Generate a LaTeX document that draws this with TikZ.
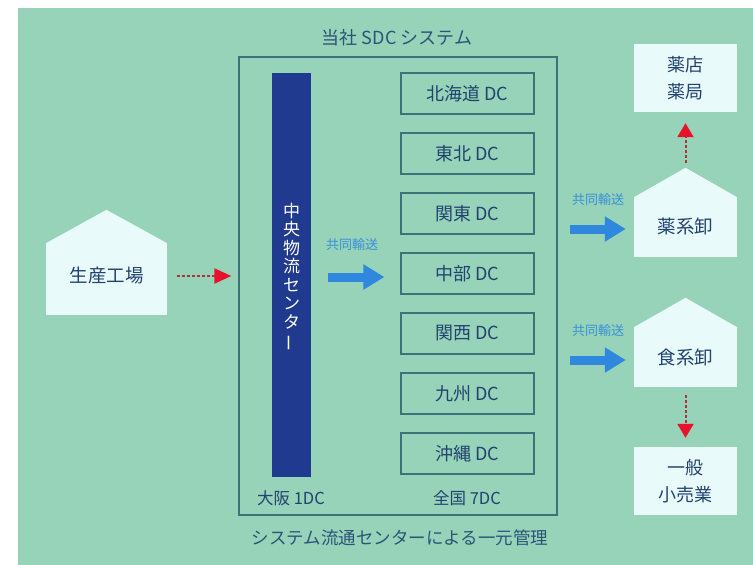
\documentclass[tikz,border=0pt]{standalone}
\usepackage{fontspec}
\setmainfont{Noto Sans CJK JP}
\usetikzlibrary{arrows.meta,calc}
\definecolor{bggreen}{HTML}{96D3B8}
\definecolor{navy}{HTML}{22426F}
\definecolor{titlec}{HTML}{2C5478}
\definecolor{framec}{HTML}{3B7378}
\definecolor{pale}{HTML}{E8FBFA}
\definecolor{barblue}{HTML}{1F3A8E}
\definecolor{arrowblue}{HTML}{2F88DD}
\definecolor{lblblue}{HTML}{3A90DA}
\definecolor{dotred}{HTML}{B5303C}
\definecolor{tipred}{HTML}{E8132B}
\tikzset{
  x=1pt, y=-1pt,
  dcbox/.style={draw=framec, line width=1.3pt, minimum width=133pt, minimum height=41pt,
    inner sep=0pt, text=navy, font=\fontsize{18}{20}\selectfont},
  palebox/.style={fill=pale, minimum width=103pt, inner sep=0pt, text=navy,
    align=center, font=\fontsize{18}{27}\selectfont},
  lbl/.style={text=navy, font=\fontsize{18.5}{20}\selectfont, inner sep=0pt},
  smalllbl/.style={text=navy, font=\fontsize{16.5}{18}\selectfont, inner sep=0pt},
  joint/.style={text=lblblue, font=\fontsize{13}{15}\selectfont, inner sep=0pt},
  bluearrow/.style={draw=arrowblue, line width=9pt, -{Triangle[length=21pt,width=24pt]}},
  redh/.style={draw=dotred, line width=2pt, dash pattern=on 3pt off 2pt,
    -{Triangle[length=17pt,width=15pt,color=tipred]}},
  redv/.style={draw=dotred, line width=2pt, dash pattern=on 3pt off 2pt,
    -{Triangle[length=14pt,width=16pt,color=tipred]}},
}
\begin{document}
\begin{tikzpicture}
\useasboundingbox (0,0) rectangle (753,565);
\fill[white] (0,0) rectangle (753,565);
\fill[bggreen] (18,8) rectangle (753,565);

% system frame
\node[draw=framec, line width=1.3pt, minimum width=318pt, minimum height=458pt, inner sep=0pt] (sys) at (398,286) {};
\node[lbl, text=titlec, font=\fontsize{18}{20}\selectfont] (title) at (397,38) {当社 SDC システム};
\node[lbl, text=titlec, font=\fontsize{17.5}{20}\selectfont] (bottom) at (400,538) {システム流通センターによる一元管理};

% central bar
\node[fill=barblue, minimum width=39pt, minimum height=404pt, inner sep=0pt] (bar) at (291.5,275) {};
\node[text=white, align=center, inner sep=0pt, font=\fontsize{17}{18.5}\selectfont] (bartext) at (291.5,277.5)
  {中\\央\\物\\流\\セ\\ン\\タ\\\rotatebox[origin=c]{90}{ー}};
\node[smalllbl] (osaka) at (291,498) {大阪 1DC};

% DC boxes
\node[dcbox] (hok) at (467.5,93.5) {北海道 DC};
\node[dcbox] (toh) at (467.5,153.5) {東北 DC};
\node[dcbox] (kan) at (467.5,213.5) {関東 DC};
\node[dcbox] (chu) at (467.5,273.5) {中部 DC};
\node[dcbox] (ksi) at (467.5,333.5) {関西 DC};
\node[dcbox] (kyu) at (467.5,393.5) {九州 DC};
\node[dcbox] (oki) at (467.5,453.5) {沖縄 DC};
\node[smalllbl] (zenkoku) at (467,498) {全国 7DC};

% factory house
\node[palebox, minimum width=121pt, minimum height=72pt] (fac) at (106.5,279) {};
\fill[pale] ($(fac.north west)+(0,0.5)$) -- ($(fac.north)+(0,-33)$) -- ($(fac.north east)+(0,0.5)$) -- cycle;
\node[lbl] (factext) at (106.5,276) {生産工場};

% right side houses and boxes
\node[palebox, minimum height=60pt] (yak) at (685.5,227) {};
\fill[pale] ($(yak.north west)+(0,0.5)$) -- ($(yak.north)+(0,-29)$) -- ($(yak.north east)+(0,0.5)$) -- cycle;
\coordinate (yakpeak) at ($(yak.north)+(0,-29)$);
\node[lbl] (yaktext) at (685.5,226) {薬系卸};

\node[palebox, minimum height=60pt] (sho) at (685.5,357) {};
\fill[pale] ($(sho.north west)+(0,0.5)$) -- ($(sho.north)+(0,-29)$) -- ($(sho.north east)+(0,0.5)$) -- cycle;
\node[lbl] (shotext) at (685.5,357) {食系卸};

\node[palebox, minimum height=68pt] (yakuten) at (685.5,78) {薬店\\薬局};
\node[palebox, minimum height=68pt] (ippan) at (685.5,481) {一般\\小売業};

% red dotted arrows
\draw[redh, shorten <=10pt, shorten >=7pt] (fac.east |- factext) -- (factext -| sys.west);
\draw[redv, shorten <=5pt, shorten >=11pt] (yakpeak) -- (yakuten.south);
\draw[redv, shorten <=8pt, shorten >=9pt] (sho.south) -- (ippan.north);

% blue joint-transport arrows
\draw[bluearrow, shorten <=17pt, shorten >=16pt] ([yshift=-2pt]bar.east) -- ([yshift=-2pt]bar.east -| chu.west);
\node[joint] (j1) at (352,245) {共同輸送};
\draw[bluearrow, shorten <=12pt, shorten >=8pt] ([yshift=-2pt]yak.west -| sys.east) -- ([yshift=-2pt]yak.west);
\node[joint] (j2) at (598,200) {共同輸送};
\draw[bluearrow, shorten <=12pt, shorten >=8pt] ([yshift=-3pt]sho.west -| sys.east) -- ([yshift=-3pt]sho.west);
\node[joint] (j3) at (598,331) {共同輸送};
\end{tikzpicture}
\end{document}
